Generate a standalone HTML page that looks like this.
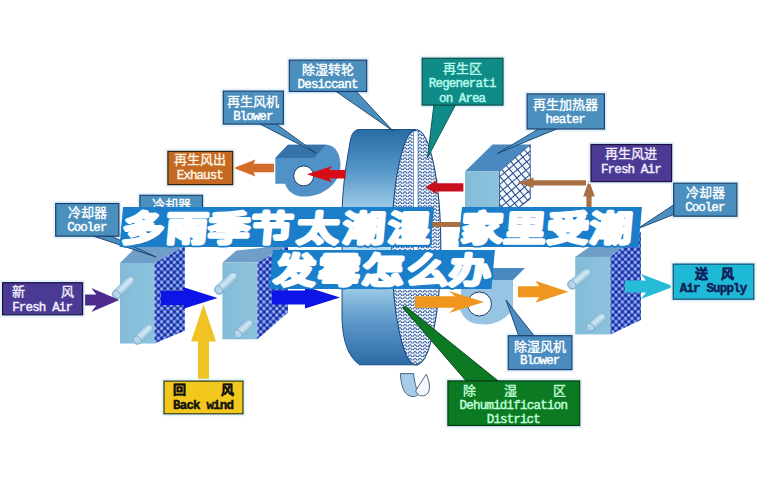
<!DOCTYPE html>
<html lang="zh-CN">
<head>
<meta charset="utf-8">
<style>
html,body{margin:0;padding:0;background:#fff;}
body{width:757px;height:488px;overflow:hidden;position:relative;font-family:"Liberation Serif",serif;}
svg{position:absolute;left:0;top:0;}
.cn{font-family:"Liberation Serif",serif;font-size:13px;}
.en{font-family:"Liberation Mono",monospace;font-size:12.5px;}
.title{font-family:"Liberation Sans",sans-serif;font-weight:900;fill:#1a7ecb;stroke:#1a7ecb;stroke-width:6.5px;stroke-linejoin:round;}
.title2{font-family:"Liberation Sans",sans-serif;font-weight:900;fill:#fff;stroke:#fff;stroke-width:2.9px;stroke-linejoin:round;}
</style>
</head>
<body>
<svg width="757" height="488" viewBox="0 0 757 488">
<defs>
  <pattern id="dots" width="6.4" height="6.6" patternUnits="userSpaceOnUse">
    <rect width="6.4" height="6.6" fill="#5676e2"/>
    <circle cx="1.6" cy="1.65" r="1.6" fill="#1a2a94"/>
    <circle cx="4.8" cy="4.95" r="1.6" fill="#1a2a94"/>
    <circle cx="4.8" cy="1.65" r="1.0" fill="#cfe2ff"/>
    <circle cx="1.6" cy="4.95" r="1.0" fill="#cfe2ff"/>
  </pattern>
  <pattern id="waves" width="5" height="3.4" patternUnits="userSpaceOnUse">
    <rect width="5" height="3.4" fill="#eef6fc"/>
    <path d="M-1.25 2.4 Q0 0.2 1.25 2.4 T3.75 2.4 T6.25 2.4" fill="none" stroke="#1f4590" stroke-width="1.0"/>
  </pattern>
  <pattern id="brick" width="6" height="6" patternUnits="userSpaceOnUse" patternTransform="rotate(50)">
    <rect width="6" height="6" fill="#f6faff"/>
    <path d="M0 0.5H6M0.5 0V6" fill="none" stroke="#22448a" stroke-width="1"/>
  </pattern>
  <linearGradient id="wheelBody" gradientUnits="userSpaceOnUse" x1="0" y1="129.5" x2="0" y2="364.8">
    <stop offset="0" stop-color="#286ca4"/>
    <stop offset="0.17" stop-color="#5596c8"/>
    <stop offset="0.32" stop-color="#96c6e4"/>
    <stop offset="0.51" stop-color="#b8dcf0"/>
    <stop offset="0.68" stop-color="#98c8e6"/>
    <stop offset="0.81" stop-color="#5f9acb"/>
    <stop offset="1" stop-color="#2c6aa4"/>
  </linearGradient>
  <linearGradient id="front" x1="0" y1="0" x2="1" y2="0">
    <stop offset="0" stop-color="#84bcd8"/>
    <stop offset="1" stop-color="#8cc2dc"/>
  </linearGradient>
  <linearGradient id="pipe" x1="0" y1="0" x2="0" y2="1">
    <stop offset="0" stop-color="#9cc8e0"/>
    <stop offset="0.45" stop-color="#d4eaf6"/>
    <stop offset="1" stop-color="#8cbad6"/>
  </linearGradient>
</defs>
<!-- coolers -->
<polygon points="120,263 154.5,263 184.8,246 137,246" fill="#6f9fc8" />
<rect x="120" y="263" width="34.5" height="80.5" fill="url(#front)"/>
<polygon points="154.5,263 184.8,246 184.8,330.7 154.5,343.5" fill="url(#dots)" />
<g transform="translate(113.5,297.6) rotate(-45.1)"><rect x="0" y="-4.5" width="27.6" height="9" rx="4.5" fill="url(#pipe)" stroke="#7eaacb" stroke-width="0.6"/><ellipse cx="4.5" cy="0" rx="3.375" ry="4.5" fill="#b4d6ec" stroke="#6f9cc0" stroke-width="0.7"/></g>
<g transform="translate(134,343) rotate(-44.0)"><rect x="0" y="-4.5" width="24.5" height="9" rx="4.5" fill="url(#pipe)" stroke="#7eaacb" stroke-width="0.6"/><ellipse cx="4.5" cy="0" rx="3.375" ry="4.5" fill="#b4d6ec" stroke="#6f9cc0" stroke-width="0.7"/></g>
<polygon points="222.4,262.6 257.4,262.6 288,245 236.4,250.60000000000002" fill="#6f9fc8" />
<rect x="222.4" y="262.6" width="35" height="76.7" fill="url(#front)"/>
<polygon points="257.4,262.6 288,245 288,312.5 257.4,339.3" fill="url(#dots)" />
<g transform="translate(215.6,293) rotate(-43.3)"><rect x="0" y="-4.5" width="28.0" height="9" rx="4.5" fill="url(#pipe)" stroke="#7eaacb" stroke-width="0.6"/><ellipse cx="4.5" cy="0" rx="3.375" ry="4.5" fill="#b4d6ec" stroke="#6f9cc0" stroke-width="0.7"/></g>
<g transform="translate(234.8,337) rotate(-43.1)"><rect x="0" y="-4.5" width="23.1" height="9" rx="4.5" fill="url(#pipe)" stroke="#7eaacb" stroke-width="0.6"/><ellipse cx="4.5" cy="0" rx="3.375" ry="4.5" fill="#b4d6ec" stroke="#6f9cc0" stroke-width="0.7"/></g>
<polygon points="575.2,256.9 610.4000000000001,256.9 641,232 595.2,242.89999999999998" fill="#6f9fc8" />
<rect x="575.2" y="256.9" width="35.2" height="77.5" fill="url(#front)"/>
<polygon points="610.4000000000001,256.9 641,232 641,320 610.4000000000001,334.4" fill="url(#dots)" />
<g transform="translate(568.6,287.6) rotate(-39.5)"><rect x="0" y="-4.5" width="27.1" height="9" rx="4.5" fill="url(#pipe)" stroke="#7eaacb" stroke-width="0.6"/><ellipse cx="4.5" cy="0" rx="3.375" ry="4.5" fill="#b4d6ec" stroke="#6f9cc0" stroke-width="0.7"/></g>
<g transform="translate(587,330) rotate(-40.6)"><rect x="0" y="-4.5" width="23.0" height="9" rx="4.5" fill="url(#pipe)" stroke="#7eaacb" stroke-width="0.6"/><ellipse cx="4.5" cy="0" rx="3.375" ry="4.5" fill="#b4d6ec" stroke="#6f9cc0" stroke-width="0.7"/></g>
<!-- heater -->
<polygon points="465,171.5 499.5,171.5 530.3,144.6 492.5,144.6" fill="#4a88c0" />
<rect x="465" y="171.5" width="34.5" height="50" fill="url(#front)"/>
<polygon points="499.5,171.5 530.3,144.6 530.3,199 499.5,222" fill="url(#brick)" stroke="#22448a" stroke-width="0.8"/>
<!-- wheel -->
<path d="M416,129.5 L359,129.5 C354,129.8 351.5,134 350,142 L345.6,169 C344,182 342.5,195 342.2,210 L342,318 C342.6,340 347.5,356 359.5,364.8 L418,364.8 Z" fill="url(#wheelBody)" stroke="#1d4c86" stroke-width="1"/>
<ellipse cx="416.3" cy="247.3" rx="24.5" ry="117.6" fill="url(#waves)" stroke="#1d4c86" stroke-width="1.1"/>
<rect x="413.4" y="131" width="4.6" height="120" fill="#ffffff" stroke="#2a5a9a" stroke-width="0.6"/>
<path d="M400.4,373.6 L413.6,373.6 C414.5,382 416,388 418,392 C419,395 417,396.5 413,396.5 C405,396.5 401,388 400.4,373.6 Z" fill="#a8cce8" stroke="#24466e" stroke-width="0.8"/>
<path d="M416,390 L426.2,374.3 C429,380 431,388 428,393 C425,397 419,397 416,392 Z" fill="#f4f8fc" stroke="#24466e" stroke-width="0.8"/>
<!-- regen blower -->
<path d="M275.3,157.9 L288,144.7 L326,144.7 C336,144.7 340.5,155 340.5,165 C340.5,183 324,196.6 303.7,196.6 C295,196.6 288,192 285,183.7 L275.3,183.7 Z" fill="#5091c8"/>
<polygon points="275.3,157.9 288,144.7 326,144.7 314,157.9" fill="#3773aa" />
<circle cx="303.7" cy="175.9" r="10" fill="#fff" stroke="#1d3c6a" stroke-width="1"/>
<!-- dehumid blower -->
<polygon points="472,268 525,268 513,280 461,280" fill="#4a88c0" />
<path d="M461,280 L513,280 L513,309 A33,33 0 0 1 479.5,324 A20,20 0 0 1 461,296 Z" fill="#98c4e4"/>
<circle cx="479.5" cy="304" r="12" fill="#fff" stroke="#1d3c6a" stroke-width="1"/>
<!-- arrows -->
<polygon points="82.5,294.5 96.3,294.5 91.3,288.0 119.3,300 91.3,312.0 96.3,305.5 82.5,305.5" fill="#4e2c8e" />
<polygon points="161,291.0 183.5,291.0 183.5,287.25 217.5,298 183.5,308.75 183.5,305.0 161,305.0" fill="#0c14e6" />
<polygon points="272,290.5 305,290.5 305,286.5 340,297.5 305,308.5 305,304.5 272,304.5" fill="#0c14e6" />
<polygon points="198.0,381 198.0,341.6 191.0,341.6 203.5,304.6 216.0,341.6 209.0,341.6 209.0,381" fill="#f0c224" />
<polygon points="415,296.2 455,296.2 449,291.0 484,302 449,313.0 455,307.8 415,307.8" fill="#f0961e" />
<polygon points="518,286.2 539.3,286.2 535.3,280.7 568.3,291.7 535.3,302.7 539.3,297.2 518,297.2" fill="#f0961e" />
<polygon points="625,280.5 646,280.5 641,274.0 674,286.5 641,299.0 646,292.5 625,292.5" fill="#26bcd8" />
<polygon points="463.4,183.15 435.6,183.15 438.0,179.55 425.3,187.3 438.0,195.05 435.6,191.45000000000002 463.4,191.45000000000002" fill="#c80f1e" />
<polygon points="345.6,169.89999999999998 329.0,169.89999999999998 332.4,165.95 306.9,174.2 332.4,182.45 329.0,178.5 345.6,178.5" fill="#d80c16" />
<polygon points="274,163.7 253.5,163.7 255.5,159.4 233.5,168 255.5,176.6 253.5,172.3 274,172.3" fill="#d26c28" />
<polygon points="586,180.20000000000002 533.5,180.20000000000002 533.5,177.60000000000002 517.8,182.8 533.5,188.0 533.5,185.4 586,185.4" fill="#a86e44" />
<polygon points="586.4,226 586.4,196.5 583.2,196.5 589,180.2 594.8,196.5 591.6,196.5 591.6,226" fill="#a86e44" />
<rect x="430" y="222" width="161.6" height="5" fill="#a86e44"/>
<rect x="287.8" y="58.6" width="80.39999999999998" height="34.4" fill="none" stroke="#e2f2fb" stroke-width="2"/>
<rect x="221.8" y="89.6" width="63.099999999999966" height="36.0" fill="none" stroke="#e2f2fb" stroke-width="2"/>
<rect x="420.7" y="56.7" width="83.80000000000001" height="49.89999999999999" fill="none" stroke="#e2f2fb" stroke-width="2"/>
<rect x="525.6" y="92.4" width="80.29999999999995" height="38.099999999999994" fill="none" stroke="#e2f2fb" stroke-width="2"/>
<rect x="166.4" y="149.9" width="67.79999999999998" height="36.19999999999999" fill="none" stroke="#e2f2fb" stroke-width="2"/>
<rect x="589.5" y="143.0" width="83.60000000000002" height="40.099999999999994" fill="none" stroke="#e2f2fb" stroke-width="2"/>
<rect x="54.2" y="202.0" width="66.2" height="35.69999999999999" fill="none" stroke="#e2f2fb" stroke-width="2"/>
<rect x="138.4" y="193.8" width="65.6" height="36.19999999999999" fill="none" stroke="#e2f2fb" stroke-width="2"/>
<rect x="672.2" y="181.7" width="66.19999999999993" height="36.0" fill="none" stroke="#e2f2fb" stroke-width="2"/>
<rect x="1.1" y="281.2" width="83.0" height="35.10000000000002" fill="none" stroke="#e2f2fb" stroke-width="2"/>
<rect x="162.5" y="379.6" width="82" height="35.69999999999999" fill="none" stroke="#e2f2fb" stroke-width="2"/>
<rect x="506.8" y="334.2" width="66.59999999999997" height="36.900000000000034" fill="none" stroke="#e2f2fb" stroke-width="2"/>
<rect x="446.4" y="379.4" width="134.80000000000007" height="47.60000000000002" fill="none" stroke="#e2f2fb" stroke-width="2"/>
<rect x="671.7" y="262.6" width="83.59999999999991" height="38.099999999999966" fill="none" stroke="#e2f2fb" stroke-width="2"/>
<!-- pointers -->
<polygon points="334,90 355,90 393,131" fill="#4a8fbe" stroke="#1a3f6e" stroke-width="0.9"/>
<polygon points="258,123 275,123 316,153" fill="#4a8fbe" stroke="#1a3f6e" stroke-width="0.9"/>
<polygon points="434,104 456,104 427.4,158" fill="#0f8c87" stroke="#07504a" stroke-width="0.9"/>
<polygon points="540,128 559,128 497.4,153.5" fill="#4a8fbe" stroke="#1a3f6e" stroke-width="0.9"/>
<polygon points="93,236 111,236 156,257" fill="#4a8fbe" stroke="#1a3f6e" stroke-width="0.9"/>
<polygon points="675,204 675,214 637,229" fill="#4a8fbe" stroke="#1a3f6e" stroke-width="0.9"/>
<polygon points="519,337 535,337 506,300" fill="#4a8cc0" stroke="#1a3f6e" stroke-width="0.9"/>
<polygon points="467,382 499.5,382 405.5,306.3 402.5,307.3" fill="#0b7a22" stroke="#053a12" stroke-width="0.9"/>
<!-- labels -->
<rect x="289.3" y="60.1" width="77.39999999999998" height="31.4" fill="#4a8fbe" stroke="#1a3f6e" stroke-width="1.2"/>
<text class="cn" x="328.0" y="74.0" fill="#fff" stroke="#fff" stroke-width="0.35" text-anchor="middle">除湿转轮</text>
<text class="en" x="297.6" y="87.6" fill="#fff" stroke="#fff" stroke-width="0.45" textLength="60.8" lengthAdjust="spacing">Desiccant</text>
<rect x="223.3" y="91.1" width="60.099999999999966" height="33.0" fill="#4a8fbe" stroke="#1a3f6e" stroke-width="1.2"/>
<text class="cn" x="253.35" y="106.1" fill="#fff" stroke="#fff" stroke-width="0.35" text-anchor="middle">再生风机</text>
<text class="en" x="233.2" y="120.2" fill="#fff" stroke="#fff" stroke-width="0.45" textLength="40.2" lengthAdjust="spacing">Blower</text>
<rect x="422.2" y="58.2" width="80.80000000000001" height="46.89999999999999" fill="#0f8c87" stroke="#0a4a44" stroke-width="1.2"/>
<text class="cn" x="462.6" y="73.0" fill="#b8faec" stroke="#b8faec" stroke-width="0.35" text-anchor="middle">再生区</text>
<text class="en" x="428.8" y="86.7" fill="#b8faec" stroke="#b8faec" stroke-width="0.45" textLength="67.6" lengthAdjust="spacing">Regenerati</text>
<text class="en" x="439.1" y="101.6" fill="#b8faec" stroke="#b8faec" stroke-width="0.45" textLength="47.0" lengthAdjust="spacing">on Area</text>
<rect x="527.1" y="93.9" width="77.29999999999995" height="35.099999999999994" fill="#4a8fbe" stroke="#1a3f6e" stroke-width="1.2"/>
<text class="cn" x="565.75" y="108.7" fill="#fff" stroke="#fff" stroke-width="0.35" text-anchor="middle">再生加热器</text>
<text class="en" x="545.6" y="122.5" fill="#fff" stroke="#fff" stroke-width="0.45" textLength="40.2" lengthAdjust="spacing">heater</text>
<rect x="167.9" y="151.4" width="64.79999999999998" height="33.19999999999999" fill="#c36923" stroke="#32200a" stroke-width="1.2"/>
<text class="cn" x="200.3" y="164.0" fill="#fff4e0" stroke="#fff4e0" stroke-width="0.35" text-anchor="middle">再生风出</text>
<text class="en" x="176.8" y="178.8" fill="#fff4e0" stroke="#fff4e0" stroke-width="0.45" textLength="47.0" lengthAdjust="spacing">Exhaust</text>
<rect x="591" y="144.5" width="80.60000000000002" height="37.099999999999994" fill="#4a3a94" stroke="#1c1040" stroke-width="1.2"/>
<text class="cn" x="631.3" y="158.1" fill="#f4eefc" stroke="#f4eefc" stroke-width="0.35" text-anchor="middle">再生风进</text>
<text class="en" x="600.9" y="172.7" fill="#f4eefc" stroke="#f4eefc" stroke-width="0.45" textLength="60.8" lengthAdjust="spacing">Fresh Air</text>
<rect x="55.7" y="203.5" width="63.2" height="32.69999999999999" fill="#4a8fbe" stroke="#1a3f6e" stroke-width="1.2"/>
<text class="cn" x="87.30000000000001" y="217.0" fill="#fff" stroke="#fff" stroke-width="0.35" text-anchor="middle">冷却器</text>
<text class="en" x="67.2" y="231.2" fill="#fff" stroke="#fff" stroke-width="0.45" textLength="40.2" lengthAdjust="spacing">Cooler</text>
<rect x="139.9" y="195.3" width="62.599999999999994" height="33.19999999999999" fill="#4a8fbe" stroke="#1a3f6e" stroke-width="1.2"/>
<text class="cn" x="171.2" y="208.9" fill="#fff" stroke="#fff" stroke-width="0.35" text-anchor="middle">冷却器</text>
<text class="en" x="151.1" y="223.0" fill="#fff" stroke="#fff" stroke-width="0.45" textLength="40.2" lengthAdjust="spacing">Cooler</text>
<rect x="673.7" y="183.2" width="63.19999999999993" height="33.0" fill="#4a8fbe" stroke="#1a3f6e" stroke-width="1.2"/>
<text class="cn" x="705.3" y="196.8" fill="#fff" stroke="#fff" stroke-width="0.35" text-anchor="middle">冷却器</text>
<text class="en" x="685.2" y="211.2" fill="#fff" stroke="#fff" stroke-width="0.45" textLength="40.2" lengthAdjust="spacing">Cooler</text>
<rect x="2.6" y="282.7" width="80.0" height="32.10000000000002" fill="#4a3a94" stroke="#1a1040" stroke-width="1.2"/>
<text class="cn" x="11.9" y="296.3" fill="#f4eefc" stroke="#f4eefc" stroke-width="0.35">新</text>
<text class="cn" x="60.6" y="296.3" fill="#f4eefc" stroke="#f4eefc" stroke-width="0.35">风</text>
<text class="en" x="12.2" y="310.7" fill="#f4eefc" stroke="#f4eefc" stroke-width="0.45" textLength="60.8" lengthAdjust="spacing">Fresh Air</text>
<rect x="164" y="381.1" width="79" height="32.69999999999999" fill="#f2c81e" stroke="#2a3a18" stroke-width="1.2"/>
<text class="cn" x="172.5" y="394.2" fill="#111" stroke="#111" stroke-width="0.35" font-weight="bold">回</text>
<text class="cn" x="220.5" y="394.2" fill="#111" stroke="#111" stroke-width="0.35" font-weight="bold">风</text>
<text class="en" x="173.1" y="408.5" fill="#111" stroke="#111" stroke-width="0.45" textLength="60.8" lengthAdjust="spacing" font-weight="bold">Back wind</text>
<rect x="508.3" y="335.7" width="63.599999999999966" height="33.900000000000034" fill="#4a8cc0" stroke="#1a3f6e" stroke-width="1.2"/>
<text class="cn" x="540.1" y="350.5" fill="#fff" stroke="#fff" stroke-width="0.35" text-anchor="middle">除湿风机</text>
<text class="en" x="520.0" y="364.2" fill="#fff" stroke="#fff" stroke-width="0.45" textLength="40.2" lengthAdjust="spacing">Blower</text>
<rect x="447.9" y="380.9" width="131.80000000000007" height="44.60000000000002" fill="#0b7a22" stroke="#063a14" stroke-width="1.2"/>
<text class="cn" x="462.8" y="394.5" fill="#c0ffd8" stroke="#c0ffd8" stroke-width="0.35">除</text>
<text class="cn" x="504.4" y="394.5" fill="#c0ffd8" stroke="#c0ffd8" stroke-width="0.35">湿</text>
<text class="cn" x="553" y="394.5" fill="#c0ffd8" stroke="#c0ffd8" stroke-width="0.35">区</text>
<text class="en" x="459.4" y="408.7" fill="#c0ffd8" stroke="#c0ffd8" stroke-width="0.45" textLength="108.7" lengthAdjust="spacing">Dehumidification</text>
<text class="en" x="486.8" y="423.1" fill="#c0ffd8" stroke="#c0ffd8" stroke-width="0.45" textLength="53.9" lengthAdjust="spacing">District</text>
<rect x="673.2" y="264.1" width="80.59999999999991" height="35.099999999999966" fill="#1eb9d7" stroke="#0c4a70" stroke-width="1.2"/>
<text class="cn" x="694.5" y="278.3" fill="#102058" stroke="#102058" stroke-width="0.35" font-weight="bold">送</text>
<text class="cn" x="720.5" y="278.3" fill="#102058" stroke="#102058" stroke-width="0.35" font-weight="bold">风</text>
<text class="en" x="679.7" y="291.5" fill="#102058" stroke="#102058" stroke-width="0.45" textLength="67.6" lengthAdjust="spacing" font-weight="bold">Air Supply</text>
<!-- title -->
<g transform="translate(0,241) skewX(-5) scale(1.2,1)">
<path d="M100.0,6 L359.2,6 L359.2,-34 L100.0,-34 Z" fill="#1a7ecb"/><path d="M382.5,6 L532.5,6 L532.5,-34 L382.5,-34 Z" fill="#1a7ecb"/>
<text class="title" y="0" style="font-size:35px"><tspan x="100.8">多</tspan><tspan x="137.5">雨</tspan><tspan x="172.5">季</tspan><tspan x="208.3">节</tspan><tspan x="246.7">太</tspan><tspan x="285.0">潮</tspan><tspan x="322.5">湿</tspan><tspan x="383.3">家</tspan><tspan x="419.2">里</tspan><tspan x="455.0">受</tspan><tspan x="491.2">潮</tspan></text>
<text class="title2" y="0" style="font-size:35px"><tspan x="100.8">多</tspan><tspan x="137.5">雨</tspan><tspan x="172.5">季</tspan><tspan x="208.3">节</tspan><tspan x="246.7">太</tspan><tspan x="285.0">潮</tspan><tspan x="322.5">湿</tspan><tspan x="383.3">家</tspan><tspan x="419.2">里</tspan><tspan x="455.0">受</tspan><tspan x="491.2">潮</tspan></text>
</g>
<g transform="translate(0,283) skewX(-5) scale(1.2,1)">
<path d="M225.0,6 L410.0,6 L410.0,-33 L225.0,-33 Z" fill="#1a7ecb"/>
<text class="title" y="0" style="font-size:35px"><tspan x="227.1">发</tspan><tspan x="264.2">霉</tspan><tspan x="300.8">怎</tspan><tspan x="338.3">么</tspan><tspan x="373.3">办</tspan></text>
<text class="title2" y="0" style="font-size:35px"><tspan x="227.1">发</tspan><tspan x="264.2">霉</tspan><tspan x="300.8">怎</tspan><tspan x="338.3">么</tspan><tspan x="373.3">办</tspan></text>
</g>
</svg>
</body>
</html>
